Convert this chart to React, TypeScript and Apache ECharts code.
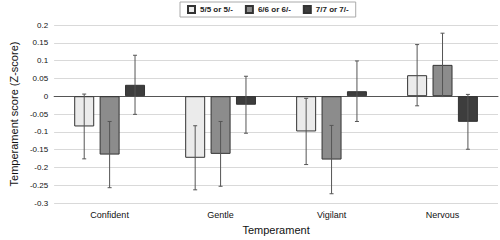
import React, { useEffect, useRef } from "react";
import * as echarts from "echarts";

const categories = ["Confident", "Gentle", "Vigilant", "Nervous"];
const seriesNames = ["5/5 or 5/-", "6/6 or 6/-", "7/7 or 7/-"];
const values5 = [-0.085, -0.173, -0.099, 0.059];
const values6 = [-0.164, -0.162, -0.178, 0.088];
const values7 = [0.032, -0.024, 0.014, -0.072];
const err5 = [0.091, 0.09, 0.093, 0.086];
const err6 = [0.093, 0.091, 0.096, 0.089];
const err7 = [0.083, 0.08, 0.085, 0.077];
const yTicks = { min: -0.3, max: 0.2, interval: 0.05 };

const colors = ["#ebebeb", "#8c8c8c", "#3d3d3d"];
const FONT = "Liberation Sans, Arial, sans-serif";

export default function App() {
  const ref = useRef<HTMLDivElement>(null);
  useEffect(() => {
    if (!ref.current) return;
    const chart = echarts.init(ref.current, undefined, { renderer: "svg" });
    const vals = [values5, values6, values7];
    const errs = [err5, err6, err7];
    const barWidth = 20;
    const gapPx = 5.4;
    const barSeries = vals.map((v, i) => ({
      name: seriesNames[i],
      type: "bar",
      data: v,
      barWidth,
      barGap: "27%",
      itemStyle: { color: colors[i], borderColor: "#333", borderWidth: 1 },
    }));
    const errSeries = vals.map((v, i) => ({
      type: "custom",
      name: "err" + i,
      data: v.map((val, j) => [j, val - errs[i][j], val + errs[i][j]]),
      z: 10,
      renderItem: (params: any, api: any) => {
        const idx = api.value(0);
        const lo = api.coord([idx, api.value(1)]);
        const hi = api.coord([idx, api.value(2)]);
        const off = (i - 1) * (barWidth + gapPx);
        const x = lo[0] + off;
        const cap = 2;
        const style = { stroke: "#555", lineWidth: 1 };
        return {
          type: "group",
          children: [
            { type: "line", shape: { x1: x, y1: lo[1], x2: x, y2: hi[1] }, style },
            { type: "line", shape: { x1: x - cap, y1: lo[1], x2: x + cap, y2: lo[1] }, style },
            { type: "line", shape: { x1: x - cap, y1: hi[1], x2: x + cap, y2: hi[1] }, style },
          ],
        };
      },
    }));
    chart.setOption({
      animation: false,
      textStyle: { fontFamily: FONT },
      legend: {
        data: seriesNames,
        left: 180,
        top: 2,
        itemWidth: 7,
        itemHeight: 7,
        itemGap: 12,
        padding: [3, 7],
        borderColor: "#aaa",
        borderWidth: 1,
        icon: "rect",
        textStyle: { fontSize: 8, fontWeight: "bold", color: "#222", fontFamily: FONT },
      },
      grid: { left: 37, right: 2, top: 25, bottom: 31 },
      xAxis: {
        type: "category",
        data: categories,
        name: "Temperament",
        nameLocation: "middle",
        nameGap: 21,
        nameTextStyle: { fontSize: 11, color: "#111", fontFamily: FONT },
        axisTick: { show: false },
        axisLine: { lineStyle: { color: "#555", width: 1 } },
        axisLabel: { fontSize: 9, color: "#111", margin: 7, fontFamily: FONT },
      },
      yAxis: {
        type: "value",
        min: yTicks.min,
        max: yTicks.max,
        interval: yTicks.interval,
        name: "Temperament score (Z-score)",
        nameLocation: "middle",
        nameGap: 29,
        nameTextStyle: { fontSize: 11, color: "#111", fontFamily: FONT },
        axisLine: { show: false },
        axisTick: { show: false },
        splitLine: { lineStyle: { color: "#d9d9d9", width: 1 } },
        axisLabel: {
          fontSize: 8,
          color: "#111",
          margin: 6,
          fontFamily: FONT,
          formatter: (v: number) => String(parseFloat(v.toFixed(2))),
        },
      },
      series: [...barSeries, ...errSeries],
    });
    return () => chart.dispose();
  }, []);
  return (
    <div
      ref={ref}
      style={{ position: "absolute", left: 0, top: 0, width: 500, height: 240 }}
    />
  );
}
